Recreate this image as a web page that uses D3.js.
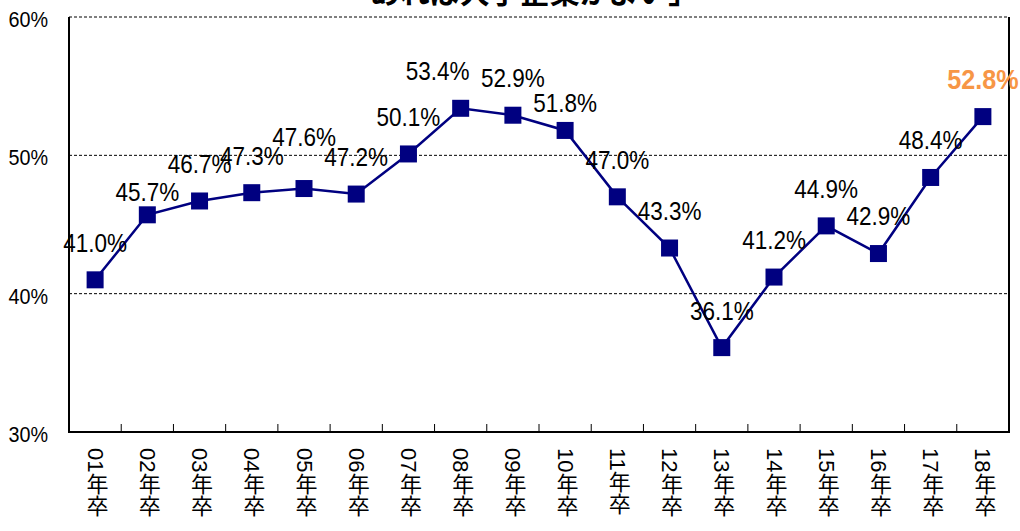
<!DOCTYPE html>
<html>
<head>
<meta charset="utf-8">
<script src="https://cdn.jsdelivr.net/npm/d3@7"></script>
<style>
  body { margin: 0; background: #fff; }
  svg { display: block; }
</style>
</head>
<body>
<div id="chart"></div>
<script>
// data
const categories = ["01年卒", "02年卒", "03年卒", "04年卒", "05年卒", "06年卒", "07年卒", "08年卒", "09年卒",
  "10年卒", "11年卒", "12年卒", "13年卒", "14年卒", "15年卒", "16年卒", "17年卒", "18年卒"];
const values = [41.0, 45.7, 46.7, 47.3, 47.6, 47.2, 50.1, 53.4, 52.9, 51.8, 47.0, 43.3, 36.1, 41.2, 44.9, 42.9, 48.4, 52.8];
const yTicks = [30, 40, 50, 60];
const titleText = "あれば大手企業がよい」";

(function lineChart() {

  let width = 1020,
    height = 531,
    margin = ({ top: 17, right: 11, bottom: 99, left: 69 });

  const svg = d3.select("#chart")
    .append("svg")
    .attr("width", width)
    .attr("height", height);

  let x = d3.scaleBand()
    .domain(categories)
    .range([margin.left, width - margin.right]);

  let y = d3.scaleLinear()
    .domain([30, 60])
    .range([height - margin.bottom, margin.top]);

  let cx = (d, i) => x(categories[i]) + x.bandwidth() / 2;

  // title, mostly cut off above the picture
  svg.append("text")
    .attr("x", 534)
    .attr("y", 3)
    .attr("text-anchor", "middle")
    .attr("font-family", "'Noto Sans CJK JP'")
    .attr("font-weight", "bold")
    .attr("font-size", 30)
    .text(titleText);

  // dashed gridlines (incl. top border)
  svg.append("g")
    .selectAll("line")
    .data(yTicks.filter(d => d > 30))
    .join("line")
    .attr("x1", margin.left)
    .attr("x2", width - margin.right)
    .attr("y1", d => y(d))
    .attr("y2", d => y(d))
    .attr("stroke", "#000")
    .attr("stroke-width", 1)
    .attr("stroke-dasharray", "3,2");

  // left, bottom, right frame
  svg.append("path")
    .attr("d", `M${margin.left},${y(60)}V${y(30)}H${width - margin.right}V${y(60)}`)
    .attr("fill", "none")
    .attr("stroke", "#000")
    .attr("stroke-width", 2);

  // x ticks at category boundaries, pointing inward
  svg.append("g")
    .selectAll("line")
    .data(categories.slice(1))
    .join("line")
    .attr("x1", d => x(d))
    .attr("x2", d => x(d))
    .attr("y1", y(30))
    .attr("y2", y(30) - 8)
    .attr("stroke", "#000")
    .attr("stroke-width", 1);

  // y labels (narrow look, like the original font)
  svg.append("g")
    .selectAll("text")
    .data(yTicks)
    .join("text")
    .attr("transform", d => `translate(48,${y(d) + 2}) scale(0.9,1)`)
    .attr("text-anchor", "end")
    .attr("dominant-baseline", "central")
    .attr("font-family", "'Liberation Sans', Arial, sans-serif")
    .attr("font-size", 22)
    .text(d => d + "%");

  // x labels, vertical
  svg.append("g")
    .selectAll("text")
    .data(categories)
    .join("text")
    .attr("x", d => x(d) + x.bandwidth() / 2)
    .attr("y", 448)
    .attr("writing-mode", "vertical-rl")
    .attr("font-family", "'Liberation Sans', 'Noto Sans CJK JP', sans-serif")
    .attr("font-size", 22)
    .text(d => d);

  let line = d3.line()
    .x(cx)
    .y(d => y(d));

  svg.append("path")
    .datum(values)
    .attr("fill", "none")
    .attr("stroke", "#000080")
    .attr("stroke-width", 2.5)
    .attr("d", line);

  let size = 17;
  svg.append("g")
    .selectAll("rect")
    .data(values)
    .join("rect")
    .attr("x", (d, i) => cx(d, i) - size / 2)
    .attr("y", d => y(d) - size / 2)
    .attr("width", size)
    .attr("height", size)
    .attr("fill", "#000080");

  // hand placed label nudges, like the original
  let nudge = { 1: [0, 14], 4: [0, -14], 7: [-23, 0], 9: [0, 10] };
  let last = values.length - 1;

  svg.append("g")
    .selectAll("text")
    .data(values)
    .join("text")
    .attr("transform", (d, i) => {
      let n = nudge[i] || [0, 0];
      return `translate(${cx(d, i) + n[0]},${y(d) - 37 + n[1]}) scale(0.9,1)`;
    })
    .attr("text-anchor", "middle")
    .attr("dominant-baseline", "central")
    .attr("font-family", "'Liberation Sans', Arial, sans-serif")
    .attr("font-size", (d, i) => i === last ? 28 : 25)
    .attr("font-weight", (d, i) => i === last ? "bold" : "normal")
    .attr("fill", (d, i) => i === last ? "#F79646" : "#000")
    .text(d => d.toFixed(1) + "%");

})();
</script>
</body>
</html>
